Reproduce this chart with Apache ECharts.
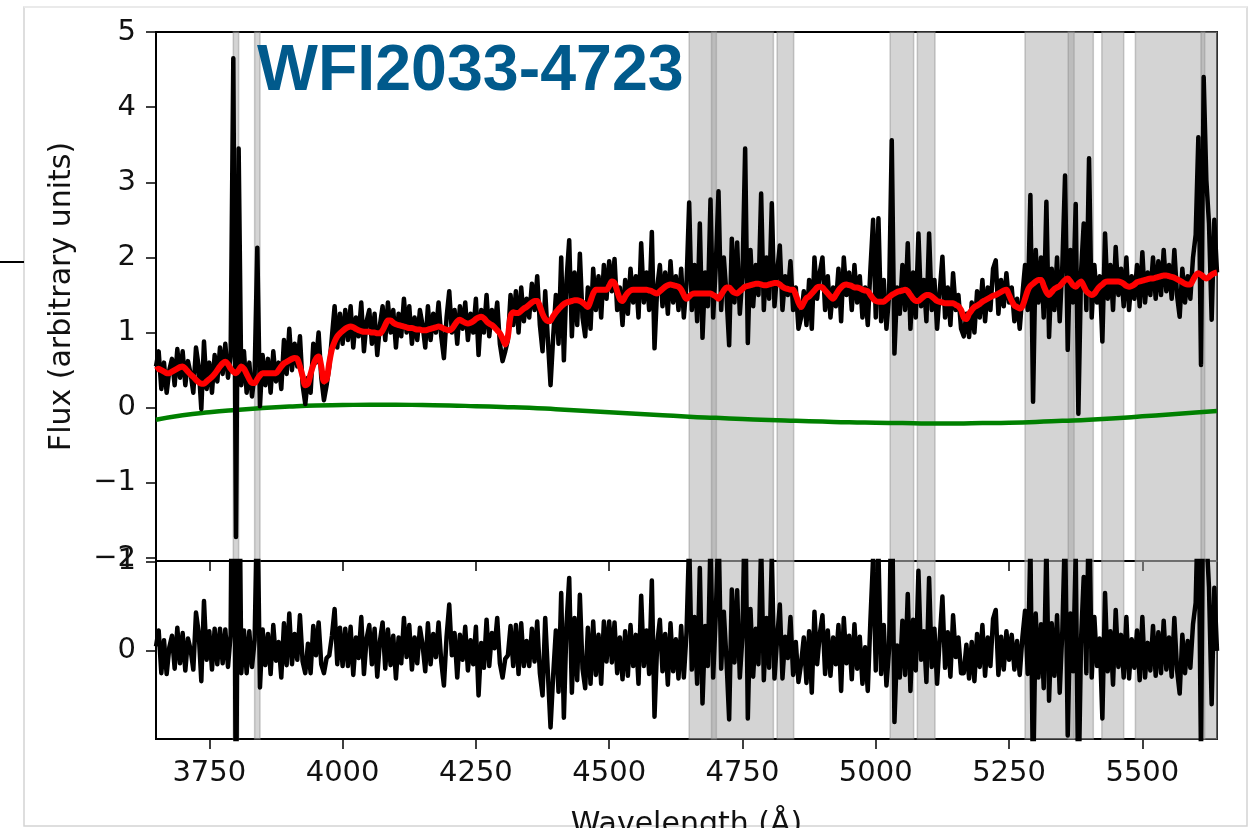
<!DOCTYPE html>
<html>
<head>
<meta charset="utf-8">
<script src="https://cdn.jsdelivr.net/npm/echarts@6/dist/echarts.min.js"></script>
<style>
  html, body { margin: 0; padding: 0; background: #fff; }
  #chart { width: 1253px; height: 828px; }
</style>
</head>
<body>
<div id="chart"></div>
<script>
// Wavelength grid of the spectrum (Angstrom)
const WAVE_START = 3650;
const WAVE_STEP = 5;

// Observed flux (arbitrary units), one value per grid step
const flux = [
  .55,.75,.25,.6,.2,.5,.65,.3,.78,.4,
  .75,.3,.62,.45,.2,.8,.55,-.02,.88,.25,
  .6,.2,.7,.35,.8,.45,.85,.4,.7,4.65,
  -1.72,3.45,.3,.75,.2,.6,.15,.45,2.13,.02,
  .7,.3,.65,.2,.75,.35,.6,.25,.9,.45,
  1.05,.5,.85,.55,.95,.3,.05,.4,.2,.85,
  .6,1.0,.4,.1,.3,.55,.95,1.35,.8,1.25,
  .85,1.3,.9,1.35,.8,1.2,.95,1.4,.75,1.15,
  1.3,.85,1.25,.7,1.1,1.35,.9,1.4,1.0,1.3,
  .8,1.25,.95,1.45,1.0,1.35,.85,1.2,.9,1.3,
  1.1,.8,1.35,.9,1.25,1.0,1.4,.95,.66,1.2,
  1.55,1.0,1.3,.85,1.35,1.05,1.4,.9,1.25,1.0,
  1.45,.7,1.3,1.0,1.5,.95,1.3,1.1,1.4,.85,
  .62,.75,.9,1.5,1.1,1.55,1.0,1.6,1.15,1.45,
  1.2,1.65,1.3,1.75,1.1,.75,1.55,.9,.3,.95,
  1.5,.85,2.0,.63,1.7,2.23,.95,1.8,1.1,2.05,
  1.2,.95,1.6,1.05,1.85,1.3,1.75,1.2,1.9,1.45,
  1.95,1.55,1.98,1.3,1.6,1.1,1.7,1.25,1.85,1.4,
  1.75,1.2,2.19,1.4,1.8,1.3,2.34,.79,1.6,1.9,
  1.35,1.8,1.25,1.95,1.4,1.75,1.3,1.85,1.2,1.65,
  2.73,1.3,1.9,1.15,2.45,.93,1.8,1.35,2.77,1.2,
  1.9,2.88,1.3,2.0,1.5,.83,2.25,1.4,2.2,1.25,
  1.75,3.45,.86,2.1,1.35,1.9,1.5,2.85,1.3,2.0,
  1.45,2.72,1.35,1.8,2.16,1.3,1.75,1.5,1.95,1.3,
  1.6,1.05,1.2,1.55,1.1,1.7,1.05,2.0,1.45,1.8,
  2.0,1.3,1.75,1.2,1.6,1.35,1.85,1.15,2.0,1.5,
  1.8,1.3,1.9,1.4,1.75,1.2,1.6,1.1,1.85,2.5,
  1.2,2.52,1.15,1.7,1.05,1.5,3.56,.72,1.6,1.25,
  1.9,1.3,2.19,1.05,1.8,1.2,2.32,1.35,1.7,1.15,
  2.32,1.3,1.7,1.05,1.55,2.01,1.2,1.6,1.1,1.79,
  1.3,1.5,1.05,.95,1.25,.94,1.4,1.0,1.55,1.2,
  1.7,1.15,1.6,1.3,1.85,1.96,1.25,1.7,1.35,1.79,
  1.4,1.6,1.15,1.45,1.05,1.5,1.9,1.3,2.83,.08,
  2.1,1.4,2.0,1.2,2.74,.94,1.85,1.3,2.0,1.15,
  1.9,3.09,.77,2.1,1.4,2.71,-.08,1.8,2.45,1.3,
  3.32,1.2,1.9,1.4,1.75,.88,2.32,1.45,1.9,1.3,
  2.14,1.5,1.85,1.35,2.0,1.3,1.75,1.45,1.9,1.35,
  2.07,1.4,1.8,1.5,2.0,1.45,1.95,1.5,2.1,1.55,
  1.9,1.45,2.1,1.5,1.21,1.85,1.4,1.75,1.45,2.0,
  2.3,3.6,.57,4.4,3.03,2.45,1.17,2.5,1.8
];

// Best-fit template model on the same grid
const model = [
  .50,.52,.50,.48,.46,.46,.48,.50,.52,.54,
  .55,.52,.48,.44,.41,.37,.34,.32,.32,.35,
  .38,.41,.45,.50,.55,.59,.61,.58,.52,.48,
  .46,.50,.55,.52,.45,.38,.33,.33,.38,.43,
  .46,.46,.46,.46,.46,.46,.50,.55,.59,.61,
  .63,.65,.66,.65,.55,.42,.30,.32,.45,.57,
  .65,.68,.55,.35,.38,.60,.78,.88,.95,.99,
  1.02,1.05,1.07,1.08,1.07,1.05,1.03,1.02,1.01,1.01,
  1.01,1.00,1.00,.99,.99,1.03,1.10,1.16,1.16,1.13,
  1.11,1.10,1.09,1.08,1.07,1.06,1.06,1.05,1.04,1.04,
  1.03,1.03,1.04,1.05,1.06,1.07,1.08,1.07,1.05,1.04,
  1.03,1.05,1.10,1.15,1.17,1.15,1.13,1.12,1.13,1.15,
  1.18,1.20,1.21,1.19,1.15,1.12,1.10,1.07,1.03,.99,
  .92,.84,.95,1.22,1.27,1.26,1.26,1.29,1.32,1.34,
  1.37,1.40,1.42,1.42,1.35,1.25,1.18,1.15,1.16,1.22,
  1.27,1.31,1.35,1.38,1.40,1.41,1.42,1.43,1.43,1.42,
  1.40,1.37,1.34,1.42,1.52,1.57,1.57,1.57,1.57,1.57,
  1.62,1.68,1.66,1.55,1.45,1.42,1.48,1.53,1.56,1.57,
  1.57,1.57,1.57,1.57,1.57,1.56,1.55,1.53,1.52,1.55,
  1.58,1.61,1.63,1.64,1.63,1.62,1.61,1.57,1.50,1.45,
  1.48,1.51,1.52,1.52,1.52,1.52,1.52,1.52,1.52,1.50,
  1.48,1.45,1.50,1.56,1.60,1.60,1.56,1.53,1.52,1.55,
  1.58,1.61,1.62,1.63,1.64,1.65,1.65,1.64,1.63,1.63,
  1.64,1.65,1.66,1.66,1.64,1.61,1.59,1.58,1.57,1.57,
  1.50,1.40,1.34,1.40,1.46,1.48,1.52,1.56,1.60,1.61,
  1.60,1.56,1.52,1.48,1.45,1.50,1.56,1.60,1.63,1.64,
  1.63,1.62,1.60,1.60,1.59,1.57,1.56,1.55,1.50,1.45,
  1.42,1.41,1.41,1.41,1.44,1.47,1.50,1.52,1.54,1.55,
  1.56,1.57,1.55,1.50,1.45,1.42,1.42,1.45,1.48,1.50,
  1.50,1.48,1.45,1.42,1.41,1.40,1.39,1.39,1.39,1.39,
  1.37,1.35,1.30,1.20,1.18,1.25,1.30,1.34,1.36,1.38,
  1.41,1.43,1.45,1.47,1.49,1.50,1.52,1.54,1.56,1.57,
  1.50,1.42,1.36,1.34,1.32,1.35,1.45,1.56,1.62,1.65,
  1.68,1.70,1.70,1.62,1.54,1.50,1.54,1.58,1.60,1.62,
  1.66,1.70,1.72,1.68,1.63,1.61,1.65,1.68,1.62,1.55,
  1.52,1.50,1.52,1.57,1.61,1.64,1.67,1.68,1.68,1.68,
  1.68,1.68,1.67,1.65,1.62,1.61,1.62,1.64,1.67,1.68,
  1.69,1.70,1.71,1.72,1.72,1.73,1.74,1.75,1.76,1.76,
  1.75,1.74,1.73,1.71,1.69,1.67,1.65,1.64,1.64,1.70,
  1.76,1.79,1.77,1.74,1.72,1.74,1.77,1.79,1.80
];

// Fit residuals on the same grid
const residual = [
  .05,.23,-.25,.12,-.26,.04,.17,-.2,.26,-.14,
  .2,-.22,.14,.01,-.21,.43,.21,-.34,.56,-.1,
  .22,-.21,.25,-.15,.25,-.14,.24,-.18,.18,4.17,
  -2.18,2.95,-.25,.23,-.25,.22,-.18,.12,1.75,-.41,
  .24,-.16,.19,-.26,.29,-.11,.1,-.3,.31,-.16,
  .42,-.15,.19,-.1,.4,-.12,-.25,.08,-.25,.28,
  -.05,.32,-.15,-.25,-.08,-.05,.17,.47,-.15,.26,
  -.17,.25,-.17,.27,-.27,.15,-.08,.38,-.26,.14,
  .29,-.15,.25,-.29,.11,.32,-.2,.24,-.16,.17,
  -.31,.15,-.14,.37,-.07,.29,-.21,.15,-.14,.26,
  .07,-.23,.31,-.15,.19,-.07,.32,-.12,-.39,.16,
  .52,-.05,.2,-.3,.18,-.1,.27,-.22,.12,-.15,
  .27,-.5,.09,-.19,.35,-.17,.2,.03,.37,-.14,
  -.3,-.09,-.05,.28,-.17,.29,-.26,.31,-.17,.11,
  -.17,.25,-.12,.33,-.25,-.5,.37,-.25,-.86,-.27,
  .23,-.46,.65,-.75,.3,.82,-.47,.37,-.33,.63,
  -.2,-.42,.26,-.37,.33,-.27,.18,-.37,.33,-.12,
  .33,-.13,.32,-.25,.15,-.32,.22,-.28,.29,-.17,
  .18,-.37,.62,-.17,.23,-.26,.79,-.74,.08,.35,
  -.23,.19,-.38,.31,-.23,.13,-.31,.28,-.3,.2,
  1.25,-.21,.38,-.37,.93,-.59,.28,-.17,1.25,-.3,
  .42,1.43,-.2,.44,-.1,-.77,.69,-.13,.68,-.3,
  .17,1.84,-.76,.47,-.29,.25,-.15,1.21,-.33,.37,
  -.19,1.07,-.31,.14,.52,-.31,.16,-.08,.38,-.27,
  .1,-.35,-.14,.15,-.36,.22,-.47,.44,-.15,.19,
  .4,-.26,.23,-.28,.15,-.15,.29,-.45,.37,-.14,
  .17,-.32,.3,-.2,.16,-.37,.04,-.45,.35,1.05,
  -.22,1.11,-.26,.29,-.39,.03,2.06,-.8,.06,-.3,
  .34,-.27,.64,-.45,.35,-.22,.9,-.1,.22,-.35,
  .82,-.18,.25,-.37,.14,.61,-.19,.21,-.29,.4,
  -.07,.15,-.25,-.25,.07,-.31,.1,-.34,.19,-.18,
  .29,-.28,.15,-.17,.36,.46,-.27,.16,-.21,.22,
  -.1,.18,-.21,.11,-.27,.15,.45,-.26,1.21,-1.57,
  .42,-.3,.3,-.42,1.2,-.56,.31,-.28,.4,-.47,
  .24,1.39,-.95,.42,-.23,1.1,-1.73,.12,.83,-.25,
  1.8,-.3,.38,-.17,.14,-.76,.65,-.23,.22,-.38,
  .46,-.18,.18,-.3,.38,-.31,.13,-.19,.23,-.33,
  .38,-.3,.09,-.22,.28,-.28,.21,-.25,.34,-.21,
  .15,-.29,.37,-.21,-.48,.18,-.25,.11,-.19,.3,
  .54,1.81,-1.2,2.66,1.31,.71,-.6,.71,0
];

// Additive polynomial continuum
const continuumWave = [3650,3700,3750,3800,3850,3900,3950,4000,4050,4100,4150,4200,4250,4300,4350,4400,4450,4500,4550,4600,4650,4700,4750,4800,4850,4900,4950,5000,5050,5100,5150,5200,5250,5300,5350,5400,5450,5500,5550,5600,5640];
const continuum = [-0.16,-0.10,-0.06,-0.03,-0.005,0.015,0.03,0.035,0.04,0.04,0.035,0.03,0.02,0.01,0.0,-0.02,-0.04,-0.06,-0.08,-0.10,-0.12,-0.135,-0.15,-0.165,-0.175,-0.185,-0.195,-0.20,-0.205,-0.21,-0.21,-0.205,-0.20,-0.19,-0.175,-0.16,-0.14,-0.115,-0.09,-0.065,-0.045];

// Wavelength ranges excluded from the fit [start, end]
const maskedRegions = [
  [3795, 3805], [3835, 3845], [4650, 4701], [4692, 4808], [4815, 4846],
  [5027, 5071], [5078, 5111], [5280, 5372], [5361, 5408], [5424, 5465],
  [5487, 5617], [5610, 5640]
];

const xTicks = [3750, 4000, 4250, 4500, 4750, 5000, 5250, 5500];
const fluxTicks = [-2, -1, 0, 1, 2, 3, 4, 5];
const residTicks = [0, 1];

const FONT = 'DejaVu Sans';
const TEXT = '#111';
const wave = flux.map((_, i) => WAVE_START + i * WAVE_STEP);
const onGrid = ys => ys.map((y, i) => [wave[i], y]);
const minus = v => (v < 0 ? '\u2212' + Math.abs(v) : String(v));
const plain = v => String(v);

const tickStyle = { show: true, inside: false, length: 10, lineStyle: { color: '#000', width: 1.5 } };
const labelStyle = { fontFamily: FONT, fontSize: 29, color: TEXT };
const nameStyle = { fontFamily: FONT, fontSize: 30, color: TEXT };

const bandArea = {
  silent: true,
  itemStyle: { color: 'rgba(160,160,160,0.45)', borderColor: 'rgba(140,140,140,0.45)', borderWidth: 1.5 },
  data: maskedRegions.map(r => [{ xAxis: r[0] }, { xAxis: r[1] }])
};

const chart = echarts.init(document.getElementById('chart'), null, { renderer: 'canvas' });

chart.setOption({
  animation: false,
  backgroundColor: '#fff',
  grid: [
    { left: 156, top: 32, width: 1061, height: 529, show: true, borderColor: '#000', borderWidth: 2, backgroundColor: 'transparent', containLabel: false, outerBoundsMode: 'none' },
    { left: 156, top: 561, width: 1061, height: 178, show: true, borderColor: '#000', borderWidth: 2, backgroundColor: 'transparent', containLabel: false, outerBoundsMode: 'none' }
  ],
  xAxis: [
    {
      type: 'value', gridIndex: 0, min: 3650, max: 5640, position: 'bottom',
      axisLine: { show: false, onZero: false }, splitLine: { show: false },
      axisTick: Object.assign({ customValues: xTicks }, tickStyle),
      axisLabel: { show: false, customValues: xTicks }
    },
    {
      type: 'value', gridIndex: 1, min: 3650, max: 5640, position: 'bottom',
      axisLine: { show: false, onZero: false }, splitLine: { show: false },
      axisTick: Object.assign({ customValues: xTicks }, tickStyle),
      axisLabel: Object.assign({ customValues: xTicks, margin: 20, formatter: plain }, labelStyle),
      name: 'Wavelength (\u00c5)', nameLocation: 'middle', nameGap: 71,
      nameTextStyle: nameStyle
    }
  ],
  yAxis: [
    {
      type: 'value', gridIndex: 0, min: -2.04, max: 5,
      axisLine: { show: false, onZero: false }, splitLine: { show: false },
      axisTick: Object.assign({ customValues: fluxTicks }, tickStyle),
      axisLabel: Object.assign({ customValues: fluxTicks, margin: 20, formatter: minus }, labelStyle),
      name: 'Flux (arbitrary units)', nameLocation: 'middle', nameGap: 79,
      nameTextStyle: nameStyle
    },
    {
      type: 'value', gridIndex: 1, min: -0.99, max: 1.01,
      axisLine: { show: false, onZero: false }, splitLine: { show: false },
      axisTick: Object.assign({ customValues: residTicks }, tickStyle),
      axisLabel: Object.assign({ customValues: residTicks, margin: 20, formatter: minus }, labelStyle)
    }
  ],
  series: [
    { type: 'line', xAxisIndex: 0, yAxisIndex: 0, data: [], z: 1, markArea: bandArea },
    {
      type: 'line', xAxisIndex: 0, yAxisIndex: 0, z: 2, showSymbol: false, smooth: true,
      data: continuumWave.map((w, i) => [w, continuum[i]]),
      lineStyle: { color: '#008000', width: 4.5 }
    },
    {
      type: 'line', xAxisIndex: 0, yAxisIndex: 0, z: 3, showSymbol: false,
      data: onGrid(flux),
      lineStyle: { color: '#000', width: 4.5, join: 'round' }
    },
    {
      type: 'line', xAxisIndex: 0, yAxisIndex: 0, z: 4, showSymbol: false, smooth: 0.3,
      data: onGrid(model),
      lineStyle: { color: '#ff0000', width: 6, join: 'round' }
    },
    { type: 'line', xAxisIndex: 1, yAxisIndex: 1, data: [], z: 1, markArea: bandArea },
    {
      type: 'line', xAxisIndex: 1, yAxisIndex: 1, z: 3, showSymbol: false,
      data: onGrid(residual),
      lineStyle: { color: '#000', width: 4.5, join: 'round' }
    }
  ],
  graphic: [
    { type: 'rect', silent: true, z: 0, shape: { x: 24, y: 7, width: 1223, height: 819 }, style: { fill: 'none', stroke: '#d4d4d4', lineWidth: 1.5 } },
    { type: 'line', silent: true, z: 1, shape: { x1: 24, y1: 7, x2: 1247, y2: 7 }, style: { stroke: '#eeeeee', lineWidth: 1.5 } },
    { type: 'line', silent: true, z: 1, shape: { x1: 0, y1: 262, x2: 24, y2: 262 }, style: { stroke: '#000', lineWidth: 2 } },
    {
      type: 'text', silent: true, z: 10,
      style: {
        x: 257, y: 72.5, text: 'WFI2033-4723',
        font: 'bold 64.5px "Liberation Sans", Arial, sans-serif',
        fill: '#015a8c', align: 'left', verticalAlign: 'middle',
        textAlign: 'left', textVerticalAlign: 'middle'
      }
    }
  ]
});
</script>
</body>
</html>
